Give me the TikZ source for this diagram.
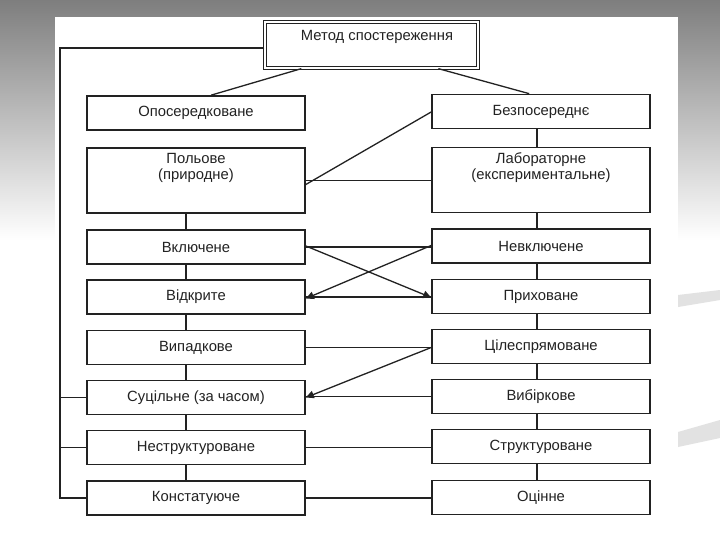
\documentclass[tikz,border=0pt]{standalone}
\usepackage{fontspec}
\setmainfont{Liberation Sans}
\usetikzlibrary{arrows.meta}
\definecolor{ink}{HTML}{222222}
\definecolor{bggray}{HTML}{7E7E7E}
\definecolor{swoosh}{HTML}{E2E2E2}
\begin{document}
\begin{tikzpicture}[x=1pt,y=-1pt,
  box/.style={draw=ink, line width=1.7pt, minimum width=218pt, minimum height=34pt,
    inner sep=0pt, fill=white, text=ink, font=\fontsize{14.8}{16}\selectfont},
  tallbox/.style={box, minimum height=65pt},
  lbl/.style={inner sep=0pt, text=ink, align=center, font=\fontsize{14.8}{16}\selectfont},
  conn/.style={draw=ink, line width=1.3pt},
  arr/.style={conn, -{Triangle[length=8pt,width=7.5pt]}}]
\useasboundingbox (0,0) rectangle (720,540);
% background
\shade[top color=bggray, bottom color=white] (0,0) rectangle (720,240);
\fill[white] (0,240) rectangle (720,540);
\fill[swoosh] (678,295) -- (720,290) -- (720,300) -- (678,307) -- cycle;
\fill[swoosh] (678,432) -- (720,420) -- (720,438) -- (678,447) -- cycle;
\fill[white] (55,17) rectangle (678,520);
% top
\node[draw=ink, line width=1.3pt, double, double distance=1.8pt, minimum width=213pt,
  minimum height=46pt, inner sep=0pt] (top) at (371.5,45) {};
\node[lbl] (toptext) at (377,37) {Метод спостереження};
% left column
\node[box] (opos) at (196,113) {Опосередковане};
\node[tallbox] (pol) at (196,180.5) {};
\node[lbl] (polt) at (196,168) {Польове\\(природне)};
\node[box] (vkl) at (196,247) {Включене};
\node[box] (vidk) at (196,297) {Відкрите};
\node[box] (vyp) at (196,347.5) {Випадкове};
\node[box] (suc) at (196,397.5) {Суцільне (за часом)};
\node[box] (nestr) at (196,447.5) {Неструктуроване};
\node[box] (konst) at (196,498) {Констатуюче};
% right column
\node[box] (bezp) at (541,111.5) {Безпосереднє};
\node[tallbox] (lab) at (541,180) {};
\node[lbl] (labt) at (541,168) {Лабораторне\\(експериментальне)};
\node[box] (nevkl) at (541,246) {Невключене};
\node[box] (pryh) at (541,296.5) {Приховане};
\node[box] (cil) at (541,346.5) {Цілеспрямоване};
\node[box] (vyb) at (541,396.5) {Вибіркове};
\node[box] (str) at (541,446.5) {Структуроване};
\node[box] (oc) at (541,497.5) {Оцінне};
% connectors from top
\draw[conn] ([xshift=37pt]top.south west) -- ([xshift=125pt]opos.north west);
\draw[conn] ([xshift=174pt]top.south west) -- ([xshift=98pt]bezp.north west);
% left bus
\coordinate (busTop) at (60,48);
\coordinate (busBot) at (60,498);
\draw[conn] (top.west |- busTop) -- (busTop) -- (busBot) -- (konst.west);
\draw[conn] (60,397.5) -- (suc.west);
\draw[conn] (60,447.5) -- (nestr.west);
% verticals left
\foreach \a/\b in {pol/vkl, vkl/vidk, vidk/vyp, vyp/suc, suc/nestr, nestr/konst}
  \draw[conn] ([xshift=-10pt]\a.south) -- ([xshift=-10pt]\b.north);
% verticals right
\foreach \a/\b in {bezp/lab, lab/nevkl, nevkl/pryh, pryh/cil, cil/vyb, vyb/str, str/oc}
  \draw[conn] ([xshift=-4pt]\a.south) -- ([xshift=-4pt]\b.north);
% cross links
\draw[conn] ([yshift=-0.5pt]bezp.west) -- ([yshift=-4pt]pol.east);
\draw[conn] (pol.east) -- (pol.east -| lab.west);
\draw[conn] ([yshift=0pt]vkl.east) -- (vkl.east -| nevkl.west);
\draw[arr] ([yshift=1pt]vkl.east) -- ([yshift=-1pt]pryh.west);
\draw[arr] ([yshift=0.5pt]nevkl.west) -- ([yshift=-1.5pt]vidk.east);
\draw[conn] (vidk.east) -- (vidk.east -| pryh.west);
\draw[conn] (vyp.east) -- (vyp.east -| cil.west);
\draw[arr] ([yshift=-1pt]cil.west) -- (suc.east);
\draw[conn] (vyb.west) -- (vyb.west -| suc.east);
\draw[conn] (nestr.east) -- (nestr.east -| str.west);
\draw[conn] (konst.east) -- (konst.east -| oc.west);
\end{tikzpicture}
\end{document}
